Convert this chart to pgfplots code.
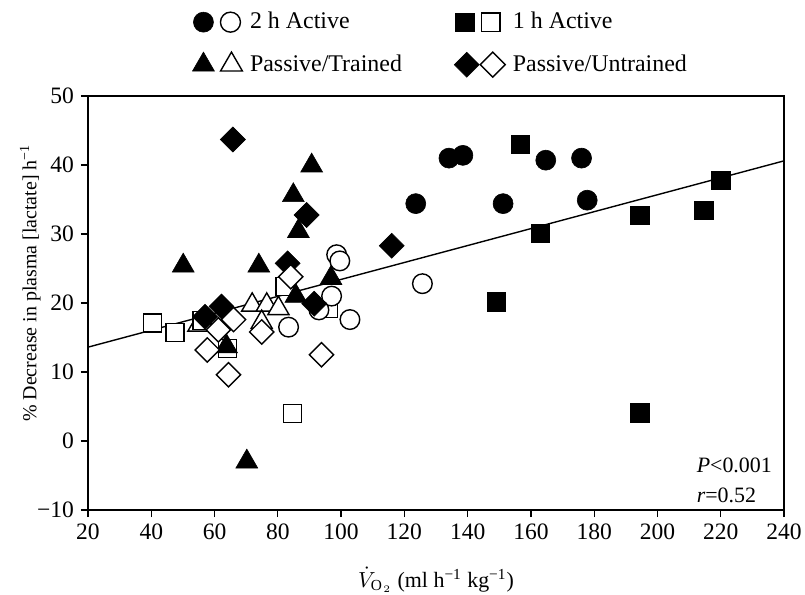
\documentclass[border=0pt]{standalone}
\usepackage{fontspec}
\setmainfont{Liberation Serif}
\usepackage{pgfplots}
\pgfplotsset{compat=1.18}
\pgfplotsset{
  filled/.style={only marks, forget plot, mark options={draw=black, fill=black, line width=0.3bp}},
  open/.style={only marks, forget plot, mark options={draw=black, fill=white, line width=0.7bp}},
}
\begin{document}
\begin{tikzpicture}
\path[use as bounding box] (-44bp,-42.5bp) rectangle (358.5bp,255bp);
\begin{axis}[
  at={(0,0)}, anchor=south west,
  scale only axis, width=348bp, height=207bp,
  xmin=20, xmax=240, ymin=-10, ymax=50,
  xtick={20,40,...,240}, ytick={-10,0,...,50},
  yticklabels={−10,0,10,20,30,40,50},
  tick align=outside, xtick pos=bottom, ytick pos=left,
  major tick length=3.5bp,
  axis line style={line width=0.6bp},
  every tick/.style={black, line width=0.6bp},
  /pgf/number format/assume math mode=true,
  tick label style={font=\fontsize{11.8}{13}\selectfont},
  xlabel={$\dot{V}_{\mathrm{O}\mkern1.5mu_2}$ (ml h\textsuperscript{−1} kg\textsuperscript{−1})},
  ylabel={\% Decrease in plasma [lactate] h\textsuperscript{−1}},
  x label style={at={(axis description cs:0.5,-0.169)}, anchor=center, font=\fontsize{11}{13}\selectfont},
  y label style={at={(axis description cs:-0.083,0.548)}, anchor=center, font=\fontsize{10}{13}\selectfont},
  legend columns=2,
  legend style={at={(axis description cs:0.508,1.127)}, anchor=center, draw=none, fill=none,
    inner sep=0pt, outer sep=0pt, row sep=7.5bp, font=\fontsize{12}{13}\selectfont,
    cells={anchor=west},
    /tikz/every odd column/.append style={column sep=1.5bp},
    /tikz/every even column/.append style={column sep=24bp}},
  clip=false,
]
\addlegendimage{legend image code/.code={
  \draw[black, fill=black, line width=0.3bp] (5bp,0) circle[radius=5bp];
  \draw[black, fill=white, line width=0.7bp] (18.5bp,0) circle[radius=5bp];}}
\addlegendentry{2 h Active}
\addlegendimage{legend image code/.code={
  \draw[black, fill=black, line width=0.3bp] (0.4bp,-4.6bp) rectangle (9.6bp,4.6bp);
  \draw[black, fill=white, line width=0.7bp] (13.4bp,-4.6bp) rectangle (22.6bp,4.6bp);}}
\addlegendentry{1 h Active}
\addlegendimage{legend image code/.code={
  \draw[black, fill=black, line width=0.3bp] (5bp,6.3bp) -- (10.46bp,-3.15bp) -- (-0.46bp,-3.15bp) -- cycle;
  \draw[black, fill=white, line width=0.7bp] (19bp,6.3bp) -- (24.46bp,-3.15bp) -- (13.54bp,-3.15bp) -- cycle;}}
\addlegendentry{Passive/Trained}
\addlegendimage{legend image code/.code={
  \draw[black, fill=black, line width=0.3bp] (6bp,6.25bp) -- (12.25bp,0) -- (6bp,-6.25bp) -- (-0.25bp,0) -- cycle;
  \draw[black, fill=white, line width=0.7bp] (19bp,6.25bp) -- (25.25bp,0) -- (19bp,-6.25bp) -- (12.75bp,0) -- cycle;}}
\addlegendentry{Passive/Untrained}

% regression line
\addplot[black, line width=0.7bp, forget plot] coordinates {(20,13.6) (240,40.6)};

% open triangles (Passive/Trained)
\addplot[open, mark=triangle*, mark size=6.1bp] coordinates {
(54.9,16.8) (71.9,19.7) (76.5,19.7) (80.2,19.2) (74.9,17.2)};
% open squares (1 h Active)
\addplot[open, mark=square*, mark size=4.5bp] coordinates {
(40.3,17.1) (47.5,15.7) (56,17.5) (64.1,13.4) (82.3,22.4) (96,19.2) (84.7,4.0)};
% open circles (2 h Active)
\addplot[open, mark=*, mark size=4.9bp] coordinates {
(98.6,27.0) (99.6,26.1) (83.4,16.5) (97,21.0) (93,19.0) (102.8,17.6) (125.7,22.8)};
% filled triangles
\addplot[filled, mark=triangle*, mark size=6.3bp] coordinates {
(50.1,25.4) (74,25.4) (90.7,39.9) (84.9,35.6) (86.5,30.4) (96.8,23.6) (85.7,21.0) (70.2,-3.0) (63.8,13.7)};
% filled diamonds
\addplot[only marks, forget plot, mark=square*, mark size=4.42bp,
  mark options={draw=black, fill=black, line width=0.3bp, rotate=45}] coordinates {
(65.8,43.7) (89.1,32.75) (83.1,25.75) (116,28.3) (57,18.0) (62.2,19.5) (91.5,19.9)};
% open diamonds
\addplot[only marks, forget plot, mark=square*, mark size=4.3bp,
  mark options={draw=black, fill=white, line width=0.7bp, rotate=45}] coordinates {
(61.2,16.1) (57.7,13.2) (64.4,9.6) (66,17.6) (84.1,23.8) (74.9,15.8) (93.8,12.5)};
% filled squares
\addplot[filled, mark=square*, mark size=4.6bp] coordinates {
(156.7,43.0) (163,30.1) (194.4,32.7) (214.6,33.4) (220,37.8) (149,20.2) (194.4,4.1)};
% filled circles
\addplot[filled, mark=*, mark size=5bp] coordinates {
(123.6,34.4) (134.1,41.0) (138.5,41.4) (151.2,34.4) (164.7,40.7) (176,41.0) (177.8,34.9)};

\node[anchor=west, align=left, font=\fontsize{11}{15}\selectfont, inner sep=0pt] at (axis cs:212.3,-5.65) {\textit{P}<0.001\\\textit{r}=0.52};
\end{axis}
\end{tikzpicture}
\end{document}
